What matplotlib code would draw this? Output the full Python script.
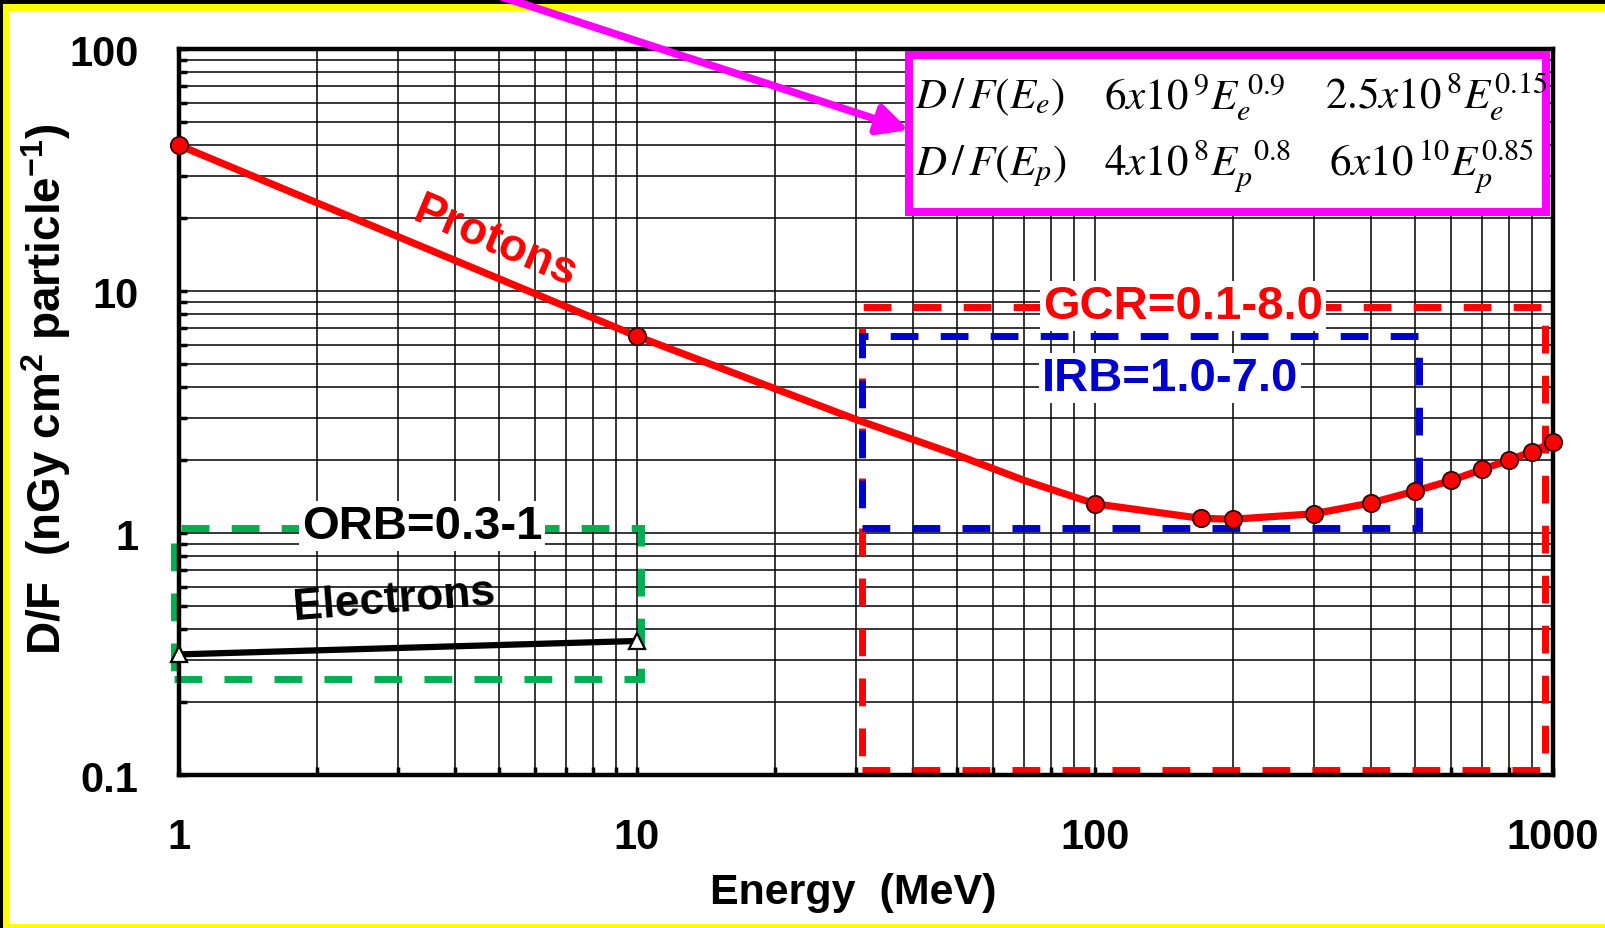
import matplotlib
matplotlib.use("Agg")
import matplotlib.pyplot as plt
import matplotlib.font_manager as fm
from matplotlib.patches import Rectangle

# ---------------- data ----------------
proton_E = [1, 10, 20, 30, 50, 70, 100, 170, 200, 300, 400, 500, 600, 700, 800, 900, 1000]
proton_D = [40, 6.5, 3.95, 2.95, 2.1, 1.65, 1.32, 1.15, 1.14, 1.2, 1.33, 1.49, 1.65, 1.83, 2.0, 2.17, 2.37]
proton_marked = [1, 10, 100, 170, 200, 300, 400, 500, 600, 700, 800, 900, 1000]

electron_E = [1, 10]
electron_D = [0.315, 0.358]

gcr_E = [31, 960]
gcr_D = [0.105, 8.6]
irb_E = [31, 510]
irb_D = [1.05, 6.5]
orb_E = [0.975, 10.2]
orb_D = [0.25, 1.05]

x_ticks = [1, 10, 100, 1000]
x_ticklabels = ["1", "10", "100", "1000"]
y_ticks = [0.1, 1, 10, 100]
y_ticklabels = ["0.1", "1", "10", "100"]

formula_rows = [
    [r"$D\,/\,F(E_e)$", r"$6x10\,^{9}E_e^{\;0.9}$", r"$2.5x10\,^{8}E_e^{0.15}$"],
    [r"$D\,/\,F(E_p)$", r"$4x10\,^{8}E_p^{\;\;0.8}$", r"$6x10\,^{10}E_p^{0.85}$"],
]

# ---------------- fonts ----------------
avail = {f.name for f in fm.fontManager.ttflist}
SANS = "Liberation Sans" if "Liberation Sans" in avail else "DejaVu Sans"
NARROW = "Liberation Sans Narrow" if "Liberation Sans Narrow" in avail else SANS
plt.rcParams["font.family"] = [SANS, "DejaVu Sans"]
plt.rcParams["mathtext.fontset"] = "custom"
plt.rcParams["mathtext.rm"] = SANS + ":bold"
plt.rcParams["mathtext.it"] = SANS + ":bold"
plt.rcParams["mathtext.bf"] = SANS + ":bold"
plt.rcParams["lines.scale_dashes"] = False

W, H = 1606, 929
fig = plt.figure(figsize=(W / 100, H / 100), dpi=100)
fig.patch.set_facecolor("black")

# yellow frame and white panel
fig.patches.append(Rectangle((3.5 / W, 0), 1, (H - 5) / H, transform=fig.transFigure,
                             facecolor="#ffff00", edgecolor="none", zorder=-10))
fig.patches.append(Rectangle((9.5 / W, 4 / H), 1, (H - 16) / H, transform=fig.transFigure,
                             facecolor="white", edgecolor="none", zorder=-9))

L, R, T, B = 179, 1553, 50, 776
ax = fig.add_axes([L / W, (H - B) / H, (R - L) / W, (B - T) / H])
ax.set_xscale("log")
ax.set_yscale("log")
ax.set_xlim(1, 1000)
ax.set_ylim(0.1, 100)

ax.grid(True, which="both", color="black", lw=1.1)
ax.set_axisbelow(True)
for s in ax.spines.values():
    s.set_linewidth(3.2)
    s.set_zorder(6)

ax.set_xticks(x_ticks)
ax.set_xticklabels(x_ticklabels)
ax.set_yticks(y_ticks)
ax.set_yticklabels(y_ticklabels)
ax.tick_params(which="both", direction="in", length=6, width=2.5, color="black")
ax.tick_params(axis="x", pad=30)
ax.tick_params(axis="y", pad=29)
for lab in ax.get_xticklabels() + ax.get_yticklabels():
    lab.set_fontfamily(NARROW)
    lab.set_fontweight("bold")
    lab.set_fontsize(30 if NARROW == SANS else 35)

ax.set_xlabel("Energy  (MeV)", fontfamily=NARROW, fontweight="bold",
              fontsize=31 if NARROW == SANS else 36)
ax.xaxis.set_label_coords((853 - L) / (R - L), (B - 893) / (B - T))
ax.xaxis.label.set_va("center")
ax.set_ylabel(r"D/F  (nGy cm$^{2}$ particle$^{\mathrm{-1}}$)", fontweight="bold", fontsize=33)
ax.yaxis.set_label_coords((46 - L) / (R - L), (B - 389) / (B - T))
ax.yaxis.label.set_va("center")

# ---- boxes ----
def box(Es, Ds, color, z):
    r = Rectangle((Es[0], Ds[0]), Es[1] - Es[0], Ds[1] - Ds[0], fill=False,
                  edgecolor=color, lw=5, linestyle=(0, (20, 16)), zorder=z, clip_on=False)
    ax.add_patch(r)

box(gcr_E, gcr_D, "#ff0000", 3)
box(irb_E, irb_D, "#0000cc", 3.1)
box(orb_E, orb_D, "#00b050", 3)

# ---- curves ----
ax.plot(proton_E, proton_D, color="#ff0000", lw=5.2, zorder=4, solid_capstyle="round")
mk = [proton_E.index(e) for e in proton_marked]
ax.plot([proton_E[i] for i in mk], [proton_D[i] for i in mk], ls="none", marker="o",
        ms=12.5, mfc="#ff0000", mec="#330000", mew=1.3, zorder=7, clip_on=False)
ax.plot(electron_E, electron_D, color="black", lw=4.5, zorder=4)
ax.plot(electron_E, electron_D, ls="none", marker="^", ms=12, mfc="white", mec="black",
        mew=1.6, zorder=7, clip_on=False)

# ---- labels ----
def ftext(px, py, s, **kw):
    return ax.text((px - L) / (R - L), (B - py) / (B - T), s, transform=ax.transAxes, **kw)

ftext(495, 243, "Protons", color="#ff0000", fontsize=33, fontweight="bold",
      rotation=-23, ha="center", va="center", zorder=8)
ftext(394, 601, "Electrons", color="black", fontsize=32, fontweight="bold",
      rotation=4.5, ha="center", va="center", zorder=8)
ftext(422, 527, "ORB=0.3-1", color="black", fontsize=34, fontweight="bold",
      ha="center", va="center", zorder=8,
      bbox=dict(facecolor="white", edgecolor="none", pad=2))
ftext(1183, 307, "GCR=0.1-8.0", color="#ff0000", fontsize=34, fontweight="bold",
      ha="center", va="center", zorder=8,
      bbox=dict(facecolor="white", edgecolor="none", pad=2))
ftext(1170, 379, "IRB=1.0-7.0", color="#0000cc", fontsize=34, fontweight="bold",
      ha="center", va="center", zorder=8,
      bbox=dict(facecolor="white", edgecolor="none", pad=2))

# ---- formula box ----
bx0, bx1, by0, by1 = 909, 1546, 213, 56
ax.add_patch(Rectangle(((bx0 - L) / (R - L), (B - by0) / (B - T)),
                       (bx1 - bx0) / (R - L), (by0 - by1) / (B - T),
                       transform=ax.transAxes, facecolor="white", edgecolor="#ff00ff",
                       lw=5.8, zorder=9, clip_on=False))
col_x = [[915, 1104, 1325], [915, 1104, 1329]]
row_y = [97, 166]
for r, row in enumerate(formula_rows):
    for c, s in enumerate(row):
        t = ftext(col_x[r][c], row_y[r], s, fontsize=31, ha="left", va="center",
                  zorder=10, color="black")
        t.set_math_fontfamily("stix")

# ---- magenta arrow ----
ax.annotate("", xy=(909, H - 131), xycoords="figure pixels",
            xytext=(490, H + 6), textcoords="figure pixels",
            arrowprops=dict(arrowstyle="-|>", color="#ff00ff", lw=5.5,
                            mutation_scale=45, shrinkA=0, shrinkB=0),
            annotation_clip=False, zorder=11)

fig.savefig("out.png", dpi=100, facecolor=fig.get_facecolor())
